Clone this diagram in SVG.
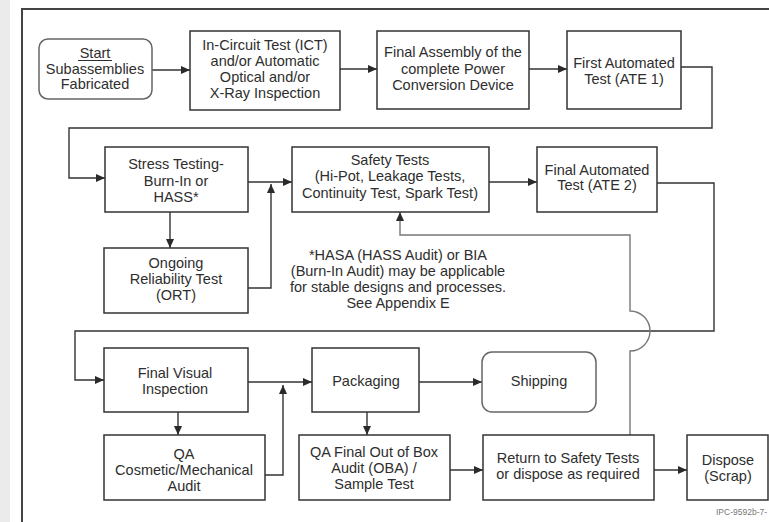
<svg xmlns="http://www.w3.org/2000/svg" width="769" height="522" viewBox="0 0 769 522">
<defs>
<marker id="ah" markerUnits="userSpaceOnUse" markerWidth="10" markerHeight="8" refX="9" refY="4" orient="auto">
<path d="M0,0 L9,4 L0,8 z" fill="#2a2a2a"/>
</marker>
<style>
.box{fill:#fff;stroke:#333;stroke-width:1.5}
.rbox{fill:#fff;stroke:#666;stroke-width:1.5}
.t{font-family:"Liberation Sans",Arial,sans-serif;font-size:14.5px;fill:#2e2e2e;text-anchor:middle}
.c{fill:none;stroke:#333;stroke-width:1.4}
.g{fill:none;stroke:#777;stroke-width:1.4}
</style>
</defs>
<rect x="0" y="0" width="769" height="522" fill="#fff"/>
<rect x="0" y="0" width="10" height="522" fill="#ebebeb"/>
<path d="M22,522 V9 H769" fill="none" stroke="#444" stroke-width="2"/>

<g id="connectors">
<path class="c" d="M152,70 H190" marker-end="url(#ah)"/>
<path class="c" d="M340,69 H377" marker-end="url(#ah)"/>
<path class="c" d="M529,69 H567" marker-end="url(#ah)"/>
<path class="c" d="M681,67 H712 V128 H69 V178 H105" marker-end="url(#ah)"/>
<path class="c" d="M170,212 V248" marker-end="url(#ah)"/>
<path class="c" d="M248,182 H292" marker-end="url(#ah)"/>
<path class="c" d="M248,288 H271 V184" marker-end="url(#ah)"/>
<path class="c" d="M489,182 H537" marker-end="url(#ah)"/>
<path class="c" d="M657,183 H714 V331 H75 V380 H104" marker-end="url(#ah)"/>
<path class="c" d="M178,412 V435" marker-end="url(#ah)"/>
<path class="c" d="M248,382 H312" marker-end="url(#ah)"/>
<path class="c" d="M265,475 H283 V385" marker-end="url(#ah)"/>
<path class="c" d="M419,382 H482" marker-end="url(#ah)"/>
<path class="c" d="M367,412 V435" marker-end="url(#ah)"/>
<path class="c" d="M450,470 H483" marker-end="url(#ah)"/>
<path class="c" d="M654,470 H687" marker-end="url(#ah)"/>
<path class="g" d="M630,435 V351 A20,20 0 0 0 630,311 V235 H400 V212" marker-end="url(#ah)"/>
</g>

<g id="start">
<rect class="rbox" x="39" y="39" width="113" height="60" rx="9"/>
<text class="t" x="95" y="58">Start</text>
<line x1="78" y1="60.5" x2="112" y2="60.5" stroke="#2e2e2e" stroke-width="1"/>
<text class="t" x="95" y="74">Subassemblies</text>
<text class="t" x="95" y="89">Fabricated</text>
</g>

<g id="ict">
<rect class="box" x="190" y="31" width="150" height="79"/>
<text class="t" x="265" y="50">In-Circuit Test (ICT)</text>
<text class="t" x="265" y="66">and/or Automatic</text>
<text class="t" x="265" y="82">Optical and/or</text>
<text class="t" x="265" y="98">X-Ray Inspection</text>
</g>

<g id="final-assembly">
<rect class="box" x="377" y="31" width="152" height="78"/>
<text class="t" x="453" y="57">Final Assembly of the</text>
<text class="t" x="453" y="74">complete Power</text>
<text class="t" x="453" y="90">Conversion Device</text>
</g>

<g id="ate1">
<rect class="box" x="567" y="31" width="114" height="78"/>
<text class="t" x="624" y="68">First Automated</text>
<text class="t" x="624" y="84">Test (ATE 1)</text>
</g>

<g id="stress">
<rect class="box" x="105" y="147" width="143" height="65"/>
<text class="t" x="176" y="169">Stress Testing-</text>
<text class="t" x="176" y="186">Burn-In or</text>
<text class="t" x="176" y="202">HASS*</text>
</g>

<g id="ort">
<rect class="box" x="104" y="248" width="144" height="65"/>
<text class="t" x="176" y="268">Ongoing</text>
<text class="t" x="176" y="284">Reliability Test</text>
<text class="t" x="176" y="300">(ORT)</text>
</g>

<g id="safety">
<rect class="box" x="292" y="147" width="197" height="65"/>
<text class="t" x="390" y="165">Safety Tests</text>
<text class="t" x="390" y="181">(Hi-Pot, Leakage Tests,</text>
<text class="t" x="390" y="198">Continuity Test, Spark Test)</text>
</g>

<g id="ate2">
<rect class="box" x="537" y="147" width="120" height="65"/>
<text class="t" x="597" y="175">Final Automated</text>
<text class="t" x="597" y="190">Test (ATE 2)</text>
</g>

<g id="footnote">
<text class="t" x="398" y="260">*HASA (HASS Audit) or BIA</text>
<text class="t" x="398" y="276">(Burn-In Audit) may be applicable</text>
<text class="t" x="398" y="292">for stable designs and processes.</text>
<text class="t" x="398" y="308">See Appendix E</text>
</g>

<g id="final-visual">
<rect class="box" x="104" y="348" width="144" height="64"/>
<text class="t" x="175" y="378">Final Visual</text>
<text class="t" x="175" y="394">Inspection</text>
</g>

<g id="qa-cosmetic">
<rect class="box" x="104" y="435" width="161" height="65"/>
<text class="t" x="184" y="459">QA</text>
<text class="t" x="184" y="475">Cosmetic/Mechanical</text>
<text class="t" x="184" y="491">Audit</text>
</g>

<g id="packaging">
<rect class="box" x="312" y="348" width="107" height="64"/>
<text class="t" x="366" y="386">Packaging</text>
</g>

<g id="shipping">
<rect class="rbox" x="482" y="352" width="114" height="60" rx="10"/>
<text class="t" x="539" y="386">Shipping</text>
</g>

<g id="qa-final">
<rect class="box" x="299" y="435" width="151" height="65"/>
<text class="t" x="374" y="457">QA Final Out of Box</text>
<text class="t" x="374" y="473">Audit (OBA) /</text>
<text class="t" x="374" y="489">Sample Test</text>
</g>

<g id="return">
<rect class="box" x="483" y="435" width="171" height="65"/>
<text class="t" x="568" y="463">Return to Safety Tests</text>
<text class="t" x="568" y="479">or dispose as required</text>
</g>

<g id="dispose">
<rect class="box" x="687" y="435" width="81" height="65"/>
<text class="t" x="728" y="465">Dispose</text>
<text class="t" x="728" y="481">(Scrap)</text>
</g>

<text x="716" y="515" font-family="'Liberation Sans',Arial,sans-serif" font-size="8.5" fill="#777">IPC-9592b-7-</text>
</svg>
